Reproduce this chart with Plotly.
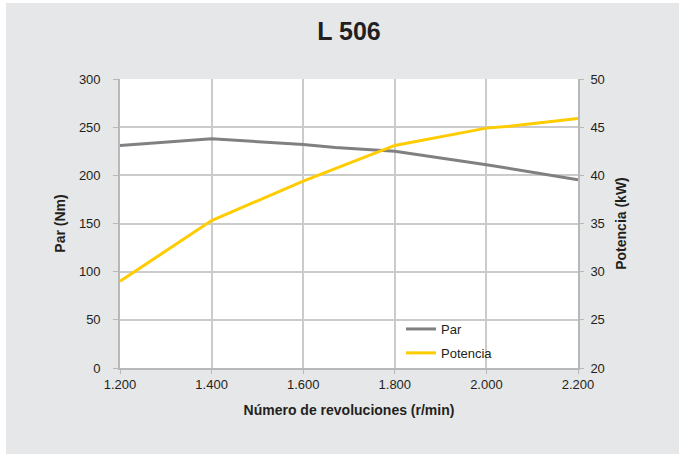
import plotly.graph_objects as go

# Data
par_rpm = [1200, 1400, 1600, 1670, 1800, 2000, 2200]
par_nm = [231, 238, 232, 229, 225, 211, 195.5]
pot_rpm = [1200, 1400, 1600, 1800, 2000, 2050, 2200]
pot_kw = [29.0, 35.3, 39.4, 43.1, 44.9, 45.1, 45.9]
x_ticks = [1200, 1400, 1600, 1800, 2000, 2200]
x_ticktext = ["1.200", "1.400", "1.600", "1.800", "2.000", "2.200"]

BG = "#e6e7e8"
GRID = "#cbcbcb"
TXT = "#231f20"
FONT = "Liberation Sans, Arial, sans-serif"

fig = go.Figure()
fig.add_trace(go.Scatter(x=par_rpm, y=par_nm, name="Par", mode="lines",
                         line=dict(color="#808083", width=3),
                         legendgroup="a", yaxis="y"))
fig.add_trace(go.Scatter(x=pot_rpm, y=pot_kw, name="Potencia", mode="lines",
                         line=dict(color="#ffcc00", width=3),
                         legendgroup="b", yaxis="y2"))

W, H = 679, 454
ml, mr, mt, mb = 120, 101, 79, 86
pw = W - ml - mr
ph = H - mt - mb

def px2x(p):
    return (p - ml) / pw

def py2y(p):
    return (H - mb - p) / ph

fig.update_layout(
    width=W, height=H,
    margin=dict(l=ml, r=mr, t=mt, b=mb, pad=0),
    paper_bgcolor=BG, plot_bgcolor="white",
    font=dict(family=FONT, size=13, color=TXT),
    title=dict(text="<b>L 506</b>", x=0.5, xanchor="center", xref="paper",
               y=1 - 31 / H, yanchor="middle", yref="container",
               font=dict(size=25, color=TXT, family=FONT)),
    xaxis=dict(range=[1200, 2200], tickvals=x_ticks, ticktext=x_ticktext,
               showgrid=True, gridcolor=GRID, gridwidth=1.6,
               showline=True, linecolor="#b8b8b8", linewidth=1.6,
               ticks="outside", ticklen=4, tickcolor="#b8b8b8",
               tickfont=dict(size=13, color=TXT), zeroline=False,
               title=dict(text="<b>Número de revoluciones (r/min)</b>",
                          font=dict(size=14, color=TXT), standoff=14)),
    yaxis=dict(range=[0, 300], dtick=50, tick0=0,
               showgrid=True, gridcolor=GRID, gridwidth=1.6,
               showline=True, linecolor="#b8b8b8", linewidth=1.6,
               ticks="outside", ticklen=5, tickcolor="#b8b8b8",
               ticklabelstandoff=10,
               tickfont=dict(size=13, color=TXT), zeroline=False,
               title=dict(text="<b>Par (Nm)</b>", font=dict(size=14, color=TXT),
                          standoff=10)),
    yaxis2=dict(range=[20, 50], dtick=5, tick0=20, overlaying="y", side="right",
                showgrid=False, showline=True, linecolor="#b8b8b8", linewidth=1.6,
                ticks="outside", ticklen=4, tickcolor="#b8b8b8",
                ticklabelstandoff=4,
                tickfont=dict(size=13, color=TXT), zeroline=False,
                title=dict(text="<b>Potencia (kW)</b>", font=dict(size=14, color=TXT),
                           standoff=12)),
    legend=dict(x=px2x(401), y=py2y(314), xanchor="left", yanchor="top",
                bgcolor="rgba(0,0,0,0)", font=dict(size=13, color=TXT),
                tracegroupgap=4, itemwidth=30),
    showlegend=True,
    shapes=[
        dict(type="rect", xref="paper", yref="paper",
             x0=px2x(-5), x1=px2x(6), y0=py2y(H + 5), y1=py2y(-5),
             fillcolor="white", line=dict(width=0), layer="above"),
        dict(type="rect", xref="paper", yref="paper",
             x0=px2x(-5), x1=px2x(W + 5), y0=py2y(3), y1=py2y(-5),
             fillcolor="white", line=dict(width=0), layer="above"),
    ],
)

fig.write_html("out.html", config={"displayModeBar": False},
               post_script="document.body.style.margin='0';document.body.style.padding='0';")
